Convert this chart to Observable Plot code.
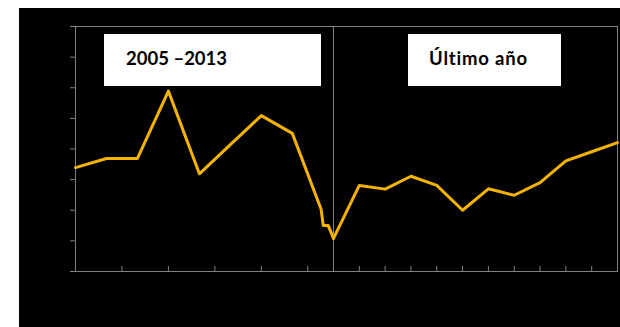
<!DOCTYPE html>
<html>
<head>
<meta charset="utf-8">
<script src="https://cdn.jsdelivr.net/npm/d3@7"></script>
<script src="https://cdn.jsdelivr.net/npm/@observablehq/plot@0.6"></script>
<style>
  html, body { margin: 0; padding: 0; background: #fff; width: 620px; height: 327px; overflow: hidden; }
  #panel { position: absolute; left: 19px; top: 8px; width: 601px; height: 319px; background: #000; }
  #panel svg { position: absolute; top: 0; overflow: visible; }
  .box { position: absolute; top: 34px; height: 52px; background: #fff; color: #000;
         font-family: Lato, "Open Sans", sans-serif; font-weight: 700; font-size: 18.5px;
         line-height: 1.2; box-sizing: border-box; padding-top: 13px; white-space: nowrap; }
</style>
</head>
<body>
<div id="panel"></div>
<script>
// ---- data ----
// Left panel: period 2005–2013 (annual, plus the early-2013 readings)
const periodYears  = [2005, 2006, 2007, 2008, 2009, 2010, 2011, 2012, 2012.93, 2013, 2013.16, 2013.33];
const periodValues = [3.39, 3.69, 3.69, 5.89, 3.19, 4.14, 5.09, 4.51, 2.03, 1.50, 1.50, 1.08];
// Right panel: last year, monthly
const lastYearMonths = [1, 2, 3, 4, 5, 6, 7, 8, 9, 10, 11, 12];
const lastYearValues = [1.08, 2.81, 2.69, 3.11, 2.81, 2.00, 2.70, 2.49, 2.90, 3.61, 3.91, 4.21];
// Tick values
const yTicks = [0, 1, 2, 3, 4, 5, 6, 7, 8];
const periodTicks = [2005, 2006.5, 2008, 2009.5, 2011, 2012.5];
const monthTicks = lastYearMonths;
// Labels
const periodLabel = "2005 \u20132013";
const lastYearLabel = "Último año";

const axisGray = "#808080";
const lineGold = "#F5B301";
const periodData = periodYears.map((t, i) => ({t, v: periodValues[i]}));
const monthData = lastYearMonths.map((m, i) => ({m, v: lastYearValues[i]}));
const blank = () => "";

const leftPlot = Plot.plot({
  width: 315, height: 319,
  marginLeft: 56, marginRight: 1, marginTop: 18, marginBottom: 56,
  style: {background: "transparent", overflow: "visible"},
  x: {domain: [2005, 2013.33]},
  y: {domain: [0, 8]},
  marks: [
    Plot.frame({stroke: axisGray}),
    Plot.axisY({ticks: yTicks, tickSize: 5, tickFormat: blank, stroke: axisGray, label: null}),
    Plot.axisX({ticks: periodTicks, tickSize: 5, dy: -5, tickFormat: blank, stroke: axisGray, label: null}),
    Plot.line(periodData, {x: "t", y: "v", stroke: lineGold, strokeWidth: 3})
  ]
});
leftPlot.style.left = "0px";

const rightPlot = Plot.plot({
  width: 287, height: 319,
  marginLeft: 0, marginRight: 3, marginTop: 18, marginBottom: 56,
  style: {background: "transparent", overflow: "visible"},
  x: {domain: [1, 12]},
  y: {domain: [0, 8], axis: null},
  marks: [
    Plot.frame({stroke: axisGray}),
    Plot.axisX({ticks: monthTicks, tickSize: 5, dy: -5, tickFormat: blank, stroke: axisGray, label: null}),
    Plot.line(monthData, {x: "m", y: "v", stroke: lineGold, strokeWidth: 3})
  ]
});
rightPlot.style.left = "314px";

const panel = document.getElementById("panel");
panel.appendChild(leftPlot);
panel.appendChild(rightPlot);

function addBox(text, left, width, padLeft, spacing) {
  const d = document.createElement("div");
  d.className = "box";
  d.style.left = left + "px";
  d.style.width = width + "px";
  d.style.paddingLeft = padLeft + "px";
  d.style.letterSpacing = spacing + "px";
  d.textContent = text;
  document.body.appendChild(d);
}
addBox(periodLabel, 104, 217, 22, 0);
addBox(lastYearLabel, 408, 153, 21, 0.8);
</script>
</body>
</html>
